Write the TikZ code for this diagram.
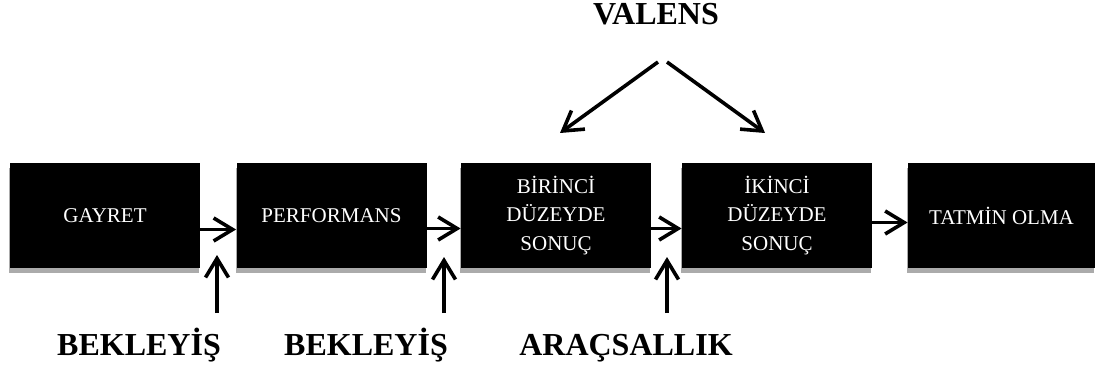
\documentclass[tikz,border=0pt]{standalone}
\usepackage{fontspec}
\setmainfont{Liberation Serif}
\usetikzlibrary{arrows.meta,shadows}

\tikzset{
    stage/.style={fill=black, text=white, align=center, inner sep=0pt,
        minimum width=95pt, minimum height=52.5pt,
        font=\fontsize{10.5}{14.25}\selectfont,
        general shadow={fill=black!33, shadow xshift=-0.5pt, shadow yshift=-2.5pt}},
    factor/.style={anchor=base, font=\fontsize{16}{19}\selectfont\bfseries},
    flow/.style={-{Straight Barb[length=9.5pt,width=11.5pt]}, line width=1.8pt}
}

\begin{document}
\begin{tikzpicture}[x=0.5pt,y=-0.5pt]
    \useasboundingbox (0,0) rectangle (1097,369);

    % Stages of the chain
    \node[stage] (gayret) at (105,215.5) {GAYRET};
    \node[stage] (perf) at (331.5,215.5) {PERFORMANS};
    \node[stage] (birinci) at (556,215.5) {BİRİNCİ\\DÜZEYDE\\SONUÇ};
    \node[stage] (ikinci) at (777,215.5) {İKİNCİ\\DÜZEYDE\\SONUÇ};
    \node[stage, minimum width=93.5pt] (tatmin) at (1001.5,215.5) {TATMİN OLMA};

    % Links between the stages
    \draw[flow] ([yshift=-7pt]gayret.east) -- ([yshift=-7pt]perf.west);
    \draw[flow] ([yshift=-6.5pt]perf.east) -- ([yshift=-6.5pt]birinci.west);
    \draw[flow] ([yshift=-6.5pt]birinci.east) -- ([yshift=-6.5pt]ikinci.west);
    \draw[flow] ([yshift=-3.5pt]ikinci.east) -- ([yshift=-3.5pt]tatmin.west);

    % Factors below
    \node[factor] (bek1) at (139,355) {BEKLEYİŞ};
    \node[factor] (bek2) at (366,355) {BEKLEYİŞ};
    \node[factor] (arac) at (626,355) {ARAÇSALLIK};

    \coordinate (bek1-from) at (217,313);
    \coordinate (bek1-to) at (217,255);
    \coordinate (bek2-from) at (444,313);
    \coordinate (bek2-to) at (444,257);
    \coordinate (arac-from) at (667,313);
    \coordinate (arac-to) at (667,257);
    \draw[flow] (bek1-from) -- (bek1-to);
    \draw[flow] (bek2-from) -- (bek2-to);
    \draw[flow] (arac-from) -- (arac-to);

    % Valence on top
    \node[factor] (valens) at (656,25) {VALENS};
    \coordinate (valens-l) at (658,62);
    \coordinate (valens-r) at (667,62);
    \coordinate (birinci-in) at (560,133);
    \coordinate (ikinci-in) at (765,133);
    \draw[flow] (valens-l) -- (birinci-in);
    \draw[flow] (valens-r) -- (ikinci-in);
\end{tikzpicture}
\end{document}
